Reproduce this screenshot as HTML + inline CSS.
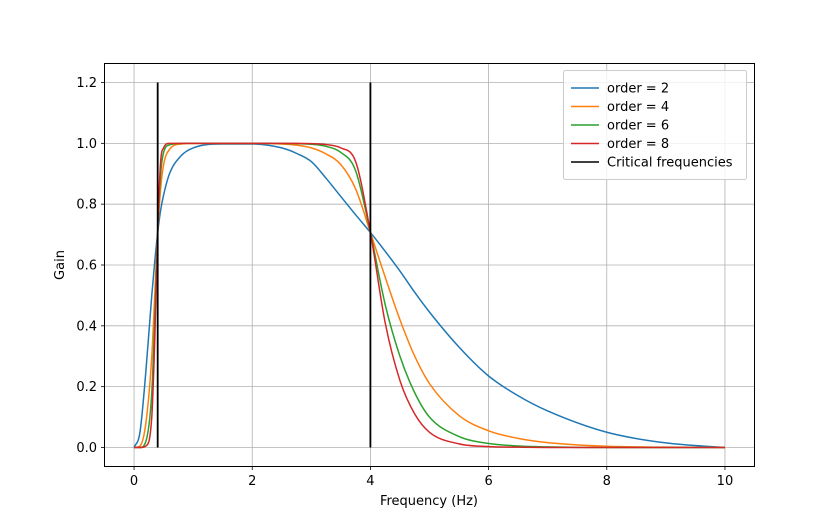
<!DOCTYPE html>
<html><head><meta charset="utf-8"><style>
html,body{margin:0;padding:0;background:#fff;}
svg{display:block;font-family:"DejaVu Sans","Liberation Sans",sans-serif;}
</style></head><body>
<svg id="chart" width="838" height="523">
<g id="grid"></g>
<g id="series"></g>
<rect x="104.5" y="63.5" width="650" height="403" fill="none" stroke="#000" stroke-width="1"/>
<g id="ticks"></g>
<text x="429" y="505" font-size="13" text-anchor="middle">Frequency (Hz)</text>
<text transform="translate(64,265) rotate(-90)" font-size="13" text-anchor="middle">Gain</text>
<g id="legend"></g>
</svg>
<script>
const freqs=[0,0.1,0.2,0.3,0.35,0.4,0.45,0.5,0.6,0.8,1,1.5,2,2.5,2.75,3,3.25,3.5,3.75,4,4.25,4.5,4.75,5,5.5,6,6.5,7,8,9,10];
const order2=[0,0.05,0.25,0.5,0.61,0.707,0.78,0.83,0.9,0.96,0.985,0.998,0.998,0.985,0.967,0.94,0.885,0.825,0.765,0.707,0.645,0.58,0.51,0.445,0.33,0.235,0.17,0.12,0.05,0.015,0];
const order4=[0,0.005,0.08,0.3,0.5,0.707,0.85,0.93,0.98,0.998,1,1,1,0.998,0.994,0.985,0.965,0.93,0.85,0.707,0.56,0.42,0.3,0.21,0.105,0.055,0.03,0.016,0.004,0.001,0];
const order6=[0,0,0.02,0.18,0.42,0.707,0.9,0.97,0.995,1,1,1,1,1,0.999,0.997,0.99,0.97,0.91,0.707,0.47,0.3,0.18,0.1,0.036,0.013,0.005,0.002,0,0,0];
const order8=[0,0,0.005,0.1,0.35,0.707,0.94,0.985,1,1,1,1,1,1,1,0.999,0.996,0.985,0.94,0.707,0.41,0.22,0.11,0.05,0.012,0.003,0.001,0,0,0,0];
const criticalFreqs=[0.4,4];
const criticalTop=1.2;
const xTicks=[0,2,4,6,8,10];
const yTicks=[0.0,0.2,0.4,0.6,0.8,1.0,1.2];
const seriesNames=["order = 2","order = 4","order = 6","order = 8"];
const seriesColors=["#1f77b4","#ff7f0e","#2ca02c","#d62728"];
const seriesData=[order2,order4,order6,order8];

const NS="http://www.w3.org/2000/svg";
const X=v=>104.5+(v+0.5)/11*650;
const Y=v=>466.5-(v+0.0625)/1.325*403;
function mk(tag,attrs,parent){const e=document.createElementNS(NS,tag);for(const k in attrs)e.setAttribute(k,attrs[k]);parent.appendChild(e);return e;}
const grid=document.getElementById('grid'),ticks=document.getElementById('ticks'),ser=document.getElementById('series'),leg=document.getElementById('legend');
xTicks.forEach(t=>{const x=X(t);
 const g=mk('line',{x1:x,x2:x,y1:63.5,y2:466.5,stroke:'#b0b0b0','stroke-width':0.8},grid);
 
 mk('line',{x1:x,x2:x,y1:466.5,y2:470,stroke:'#000','stroke-width':0.8},ticks);
 const tx=mk('text',{x:x,y:485,'font-size':13,'text-anchor':'middle'},ticks);tx.textContent=t;
 });
yTicks.forEach(t=>{const y=Y(t);
 const g=mk('line',{x1:104.5,x2:754.5,y1:y,y2:y,stroke:'#b0b0b0','stroke-width':0.8},grid);
 
 mk('line',{x1:101,x2:104.5,y1:y,y2:y,stroke:'#000','stroke-width':0.8},ticks);
 const tx=mk('text',{x:97,y:y+4.5,'font-size':13,'text-anchor':'end'},ticks);tx.textContent=t.toFixed(1);
 });
function monotonePath(xs,ys){
 const n=xs.length,px=xs.map(X),py=ys.map(Y),d=[],m=[];
 for(let i=0;i<n-1;i++)d.push((py[i+1]-py[i])/(px[i+1]-px[i]));
 m[0]=d[0];m[n-1]=d[n-2];
 for(let i=1;i<n-1;i++){m[i]=(d[i-1]*d[i]<=0)?0:(d[i-1]+d[i])/2;}
 for(let i=0;i<n-1;i++){if(d[i]===0){m[i]=0;m[i+1]=0;continue;}const a=m[i]/d[i],b=m[i+1]/d[i],s=a*a+b*b;if(s>9){const t=3/Math.sqrt(s);m[i]=t*a*d[i];m[i+1]=t*b*d[i];}}
 let p='M'+px[0]+','+py[0];
 for(let i=0;i<n-1;i++){const h=(px[i+1]-px[i])/3;p+='C'+(px[i]+h)+','+(py[i]+m[i]*h)+' '+(px[i+1]-h)+','+(py[i+1]-m[i+1]*h)+' '+px[i+1]+','+py[i+1];}
 return p;}
seriesData.forEach((vals,i)=>{
 const p=mk('path',{d:monotonePath(freqs,vals),fill:'none',stroke:seriesColors[i],'stroke-width':1.5},ser);
 });
criticalFreqs.forEach(f=>{
 const l=mk('line',{x1:X(f),x2:X(f),y1:Y(0),y2:Y(criticalTop),stroke:'#000','stroke-width':1.8},ser);
 });
const lb=mk('rect',{x:563.5,y:70.5,width:183,height:109,rx:2,fill:'#fff','fill-opacity':0.8,stroke:'#ccc'},leg);

const names=seriesNames.concat(["Critical frequencies"]),cols=seriesColors.concat(["#000"]);
names.forEach((nm,i)=>{const y=88+i*18.5;
 const g=mk('g',{},leg);
 mk('line',{x1:571,x2:599,y1:y,y2:y,stroke:cols[i],'stroke-width':1.5},g);
 const t=mk('text',{x:607,y:y+4.5,'font-size':13},g);t.textContent=nm;});
</script>
</body></html>
